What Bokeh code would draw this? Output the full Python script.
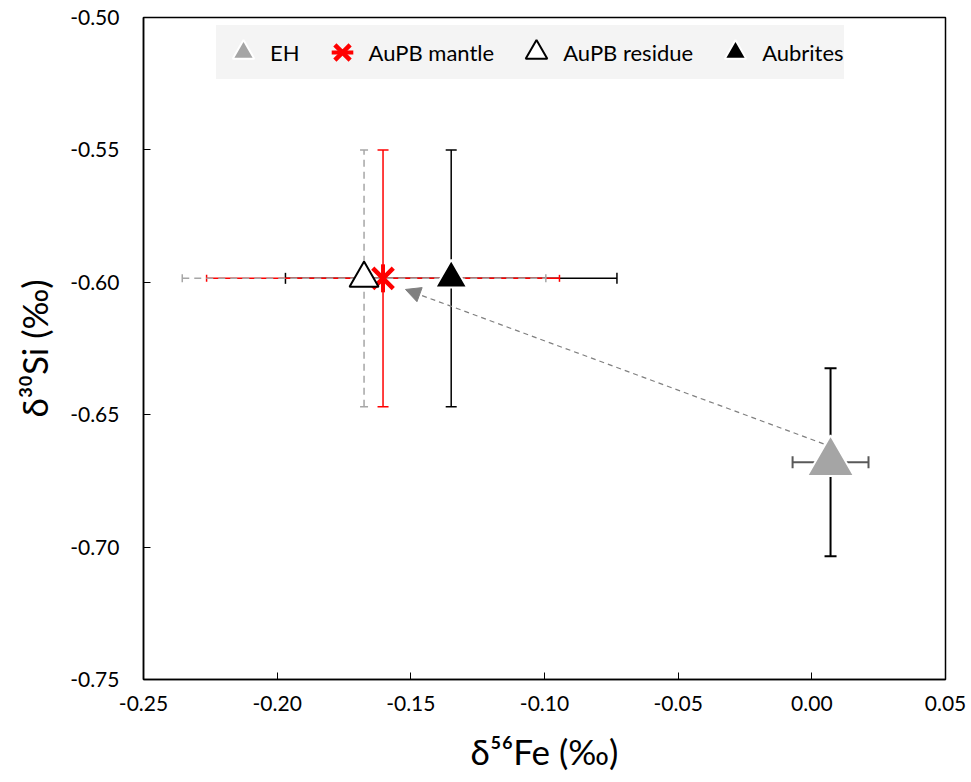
from bokeh.plotting import figure
from bokeh.models import (ColumnDataSource, Whisker, TeeHead, Arrow, NormalHead,
                          Legend, LegendItem, FixedTicker, PrintfTickFormatter, Range1d)
from bokeh.embed import file_html
from bokeh.resources import INLINE
import math

# ---- data ----
names = ["EH", "AuPB mantle", "AuPB residue", "Aubrites"]
fe56 = [0.007, -0.1604, -0.1675, -0.1349]
fe56_err = [0.0142, 0.066, 0.068, 0.062]
si30 = [-0.668, -0.5985, -0.5985, -0.5985]
si30_err = [0.0355, 0.0485, 0.0485, 0.0485]
arrow_fe = [0.0044, -0.152]
arrow_si = [-0.661, -0.6027]
x_ticks = [-0.25, -0.20, -0.15, -0.10, -0.05, 0.00, 0.05]
y_ticks = [-0.75, -0.70, -0.65, -0.60, -0.55, -0.50]

FONT = "Lato"

p = figure(width=971, height=782, output_backend="svg", toolbar_location=None,
           x_range=Range1d(-0.25, 0.05), y_range=Range1d(-0.75, -0.50),
           min_border_left=143, min_border_right=26, min_border_top=17, min_border_bottom=103)
p.xgrid.visible = False
p.ygrid.visible = False
p.outline_line_color = "black"
p.outline_line_width = 1.5
p.background_fill_color = "white"
p.border_fill_color = "white"

for ax in (p.xaxis[0], p.yaxis[0]):
    ax.axis_line_color = "black"
    ax.axis_line_width = 1.5
    ax.major_tick_in = 7
    ax.major_tick_out = 0
    ax.major_tick_line_color = "black"
    ax.major_tick_line_width = 1
    ax.minor_tick_line_color = None
    ax.major_label_text_font = FONT
    ax.major_label_text_font_size = "21px"
    ax.major_label_text_color = "black"
    ax.axis_label_text_font = FONT
    ax.axis_label_text_font_size = "35px"
    ax.axis_label_text_font_style = "normal"
    ax.axis_label_text_color = "black"
    ax.formatter = PrintfTickFormatter(format="%.2f")

p.xaxis[0].ticker = FixedTicker(ticks=x_ticks)
p.yaxis[0].ticker = FixedTicker(ticks=y_ticks)
p.xaxis[0].axis_label = "δ⁵⁶Fe (‰)"
p.yaxis[0].axis_label = "δ³⁰Si (‰)"
p.xaxis[0].major_label_standoff = 16
p.yaxis[0].major_label_standoff = 24
p.xaxis[0].axis_label_standoff = 16
p.yaxis[0].axis_label_standoff = 12

def src(i):
    return ColumnDataSource(dict(
        x=[fe56[i]], y=[si30[i]],
        xl=[fe56[i] - fe56_err[i]], xu=[fe56[i] + fe56_err[i]],
        yl=[si30[i] - si30_err[i]], yu=[si30[i] + si30_err[i]]))

srcs = [src(i) for i in range(4)]

def add_err(s, color, width, dash="solid", cap_v=12, cap_h=12, hcolor=None):
    hc = hcolor or color
    wh = Whisker(source=s, base="x", lower="yl", upper="yu", dimension="height",
                 line_color=color, line_width=width, line_dash=dash, level="underlay",
                 upper_head=TeeHead(size=cap_v, line_color=color, line_width=width),
                 lower_head=TeeHead(size=cap_v, line_color=color, line_width=width))
    ww = Whisker(source=s, base="y", lower="xl", upper="xu", dimension="width",
                 line_color=hc, line_width=width, line_dash=dash, level="underlay",
                 upper_head=TeeHead(size=cap_h, line_color=hc, line_width=width),
                 lower_head=TeeHead(size=cap_h, line_color=hc, line_width=width))
    p.add_layout(wh)
    p.add_layout(ww)

# draw order: aubrites (black), mantle (red), residue (gray dashed), EH
add_err(srcs[3], "black", 1.5, cap_v=11, cap_h=11)
add_err(srcs[1], "#FF0000", 1.5, cap_v=11, cap_h=7)
add_err(srcs[2], "#A6A6A6", 1.5, dash="7 5", cap_v=8, cap_h=8)
add_err(srcs[0], "black", 2, cap_v=12, cap_h=12, hcolor="#595959")

# arrow from EH to the AuPB cluster
p.add_layout(Arrow(x_start=arrow_fe[0], y_start=arrow_si[0], x_end=arrow_fe[1], y_end=arrow_si[1],
                   line_color="#808080", line_width=1.2, line_dash="5 4", level="underlay",
                   end=NormalHead(size=15, fill_color="#808080", line_color="#808080", line_width=1)))

r_eh = p.scatter("x", "y", source=srcs[0], marker="triangle", size=47,
                 fill_color="#A5A5A5", line_color="white", line_width=2)
r_mantle_x = p.scatter("x", "y", source=srcs[1], marker="x", size=29,
                       line_color="#FF0000", line_width=4.5)
r_mantle_v = p.scatter("x", "y", source=srcs[1], marker="dash", size=28, angle=math.pi / 2,
                       line_color="#FF0000", line_width=4)
r_res = p.scatter("x", "y", source=srcs[2], marker="triangle", size=29,
                  fill_color="white", line_color="black", line_width=2)
r_aub = p.scatter("x", "y", source=srcs[3], marker="triangle", size=32,
                  fill_color="black", line_color="white", line_width=2)

legend = Legend(items=[LegendItem(label=names[0], renderers=[r_eh]),
                       LegendItem(label=names[1], renderers=[r_mantle_x, r_mantle_v]),
                       LegendItem(label=names[2], renderers=[r_res]),
                       LegendItem(label=names[3], renderers=[r_aub])],
                orientation="horizontal", location=(73, 600),
                glyph_width=54, glyph_height=54, label_standoff=0, spacing=15,
                padding=0, margin=0,
                label_text_font=FONT, label_text_font_size="22px", label_text_color="black",
                background_fill_color="#F4F4F4", background_fill_alpha=1,
                border_line_color=None)
p.add_layout(legend, "center")

open("out.html", "w").write(file_html(p, INLINE))
